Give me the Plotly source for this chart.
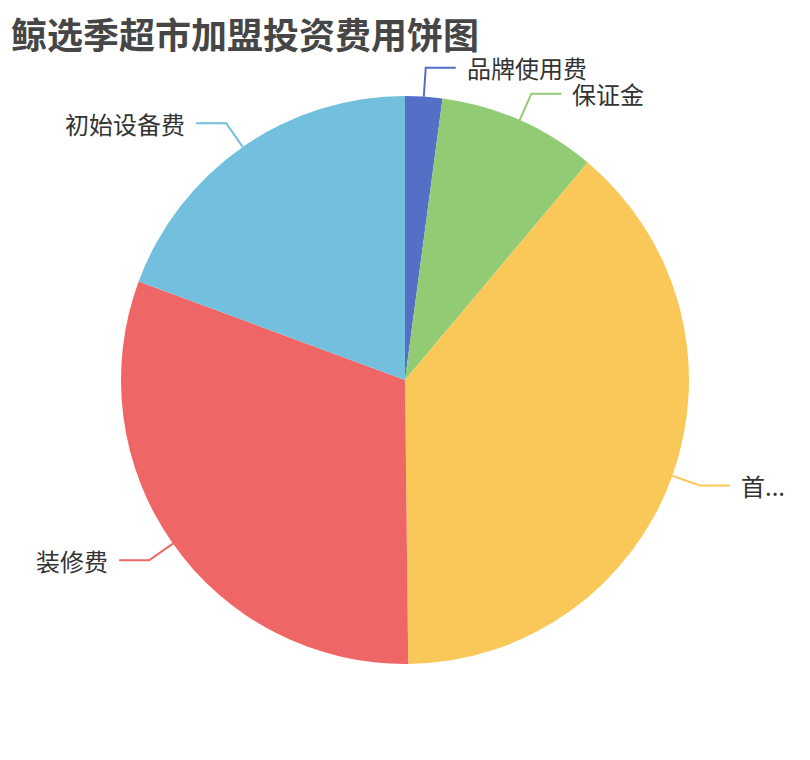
import math
import plotly.graph_objects as go

# share of each cost item (%)
labels = ["品牌使用费", "保证金", "首...", "装修费", "初始设备费"]
values = [2.11, 9.01, 38.70, 30.82, 19.36]
colors = ["#5470c6", "#91cc75", "#fac858", "#ee6666", "#73c0de"]

W, H = 810, 760
off = 8  # page body margin
cx, cy, r = 405 - off, 380 - off, 284
len1, len2, gap = 29, 30, 9

fig = go.Figure()
fig.add_trace(go.Pie(
    labels=labels, values=values, sort=False, direction="clockwise", rotation=0,
    marker=dict(colors=colors, line=dict(width=0)),
    textinfo="none", hoverinfo="label+percent", showlegend=False,
    domain=dict(x=[(cx - r) / W, (cx + r) / W], y=[1 - (cy + r) / H, 1 - (cy - r) / H]),
))

# leader lines and labels, ECharts style
total = sum(values)
cum = 0
for lab, v, c in zip(labels, values, colors):
    mid = (cum + v / 2) / total * 2 * math.pi
    cum += v
    sx, sy = math.sin(mid), -math.cos(mid)
    x0, y0 = cx + r * sx, cy + r * sy
    x1, y1 = cx + (r + len1) * sx, cy + (r + len1) * sy
    right = sx >= 0
    x2 = x1 + len2 if right else x1 - len2
    fig.add_trace(go.Scatter(
        x=[x0, x1, x2], y=[y0, y1, y1], mode="lines",
        line=dict(color=c, width=2), hoverinfo="skip", showlegend=False,
    ))
    fig.add_annotation(
        x=x2 + gap if right else x2 - gap, y=y1, xref="x", yref="y",
        text=lab, showarrow=False, xanchor="left" if right else "right", yanchor="middle",
        font=dict(size=24, color="#333333", family="Noto Sans CJK SC"),
    )

fig.add_annotation(
    x=0, y=1, xref="paper", yref="paper", xanchor="left", yanchor="top",
    xshift=2, yshift=2, borderpad=0,
    text="<b>鲸选季超市加盟投资费用饼图</b>", showarrow=False,
    font=dict(size=36, color="#464646", family="Noto Sans CJK SC"),
)

fig.update_layout(
    width=W, height=H, margin=dict(l=0, r=0, t=0, b=0),
    paper_bgcolor="white", plot_bgcolor="rgba(0,0,0,0)",
    xaxis=dict(range=[0, W], visible=False, fixedrange=True),
    yaxis=dict(range=[H, 0], visible=False, fixedrange=True),
)

fig.write_html("out.html")
